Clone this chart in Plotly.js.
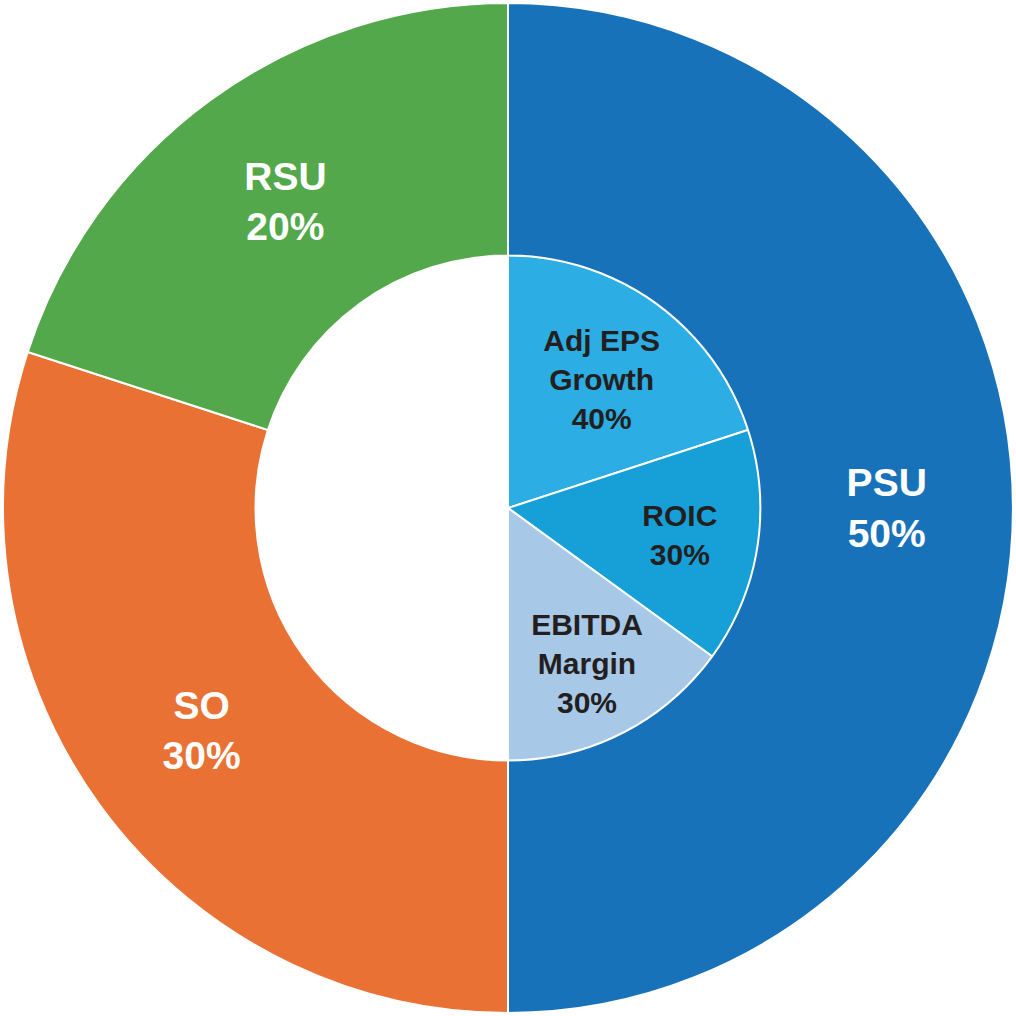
<!DOCTYPE html>
<html>
<head>
<meta charset="utf-8">
<script src="https://cdn.plot.ly/plotly-3.0.1.min.js"></script>
<style>html,body{margin:0;padding:0;background:#fff;}#chart{width:1016px;height:1016px;}</style>
</head>
<body>
<div id="chart"></div>
<script>
// Outer ring: award vehicle mix
const outerLabels = ["PSU", "SO", "RSU"];
const outerValues = [50, 30, 20];
const outerColors = ["#1872b9", "#ea7134", "#52a84a"];

// Inner pie: PSU performance metrics (share of PSU)
const innerLabels = ["Adj EPS<br>Growth", "ROIC", "EBITDA<br>Margin"];
const innerShares = [40, 30, 30];
const innerColors = ["#2cade3", "#179fd7", "#a8c8e8"];

const psuValue = outerValues[0];
const innerValues = innerShares.map(s => s * psuValue / 100).concat([100 - psuValue]);

const outer = {
  type: "pie",
  labels: outerLabels,
  values: outerValues,
  text: outerValues.map(v => v + "%"),
  texttemplate: "%{label}<br>%{text}",
  textposition: "inside",
  insidetextorientation: "horizontal",
  hole: 0.5,
  sort: false,
  direction: "clockwise",
  rotation: 0,
  marker: { colors: outerColors, line: { color: "#ffffff", width: 2 } },
  textfont: { family: "Liberation Sans, Arial, sans-serif", size: 39, color: "#ffffff", weight: "bold" },
  domain: { x: [0.003, 0.997], y: [0.003, 0.997] },
  showlegend: false,
  hoverinfo: "none"
};

const inner = {
  type: "pie",
  labels: innerLabels.concat(["blank"]),
  values: innerValues,
  text: innerShares.map(v => v + "%").concat([""]),
  texttemplate: innerLabels.map(() => "%{label}<br>%{text}").concat([""]),
  textposition: "inside",
  insidetextorientation: "horizontal",
  sort: false,
  direction: "clockwise",
  rotation: 0,
  marker: { colors: innerColors.concat(["#ffffff"]), line: { color: "#ffffff", width: 2 } },
  textfont: { family: "Liberation Sans, Arial, sans-serif", size: 30, color: "#231f20", weight: "bold" },
  domain: { x: [0.251, 0.749], y: [0.251, 0.749] },
  showlegend: false,
  hoverinfo: "none"
};

const layout = {
  width: 1016,
  height: 1016,
  margin: { l: 0, r: 0, t: 0, b: 0 },
  paper_bgcolor: "#ffffff",
  plot_bgcolor: "#ffffff",
  showlegend: false,
  uniformtext: { mode: false }
};

Plotly.newPlot("chart", [inner, outer], layout, { displayModeBar: false, staticPlot: true });
</script>
</body>
</html>
